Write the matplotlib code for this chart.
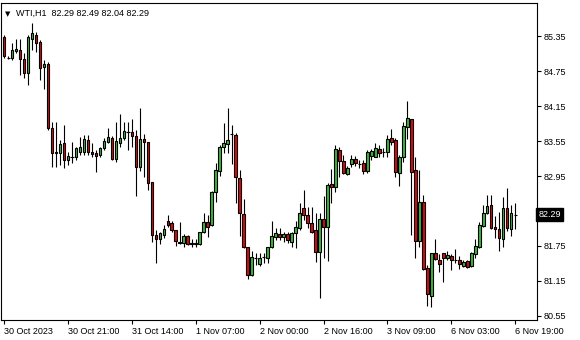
import numpy as np
import matplotlib.pyplot as plt
from matplotlib.patches import Rectangle

# --- WTI H1 candles (open, high, low, close) ---
opens = [85.33, 84.99, 84.97, 85.09, 85.11, 84.96, 84.72, 85.30, 85.38, 85.25,
         84.82, 84.87, 83.77, 83.36, 83.34, 83.52, 83.22, 83.28, 83.28, 83.36,
         83.36, 83.57, 83.36, 83.34, 83.31, 83.43, 83.53, 83.60, 83.24, 83.52,
         83.60, 83.72, 83.70, 83.64, 83.10, 83.58, 83.53, 82.85, 81.94, 81.87,
         81.93, 82.18, 82.14, 82.02, 81.82, 81.80, 81.92, 81.80, 81.78, 81.78,
         81.99, 82.16, 82.11, 82.68, 83.04, 83.45, 83.50, 83.67, 83.65, 82.91,
         82.30, 81.73, 81.25, 81.55, 81.44, 81.55, 81.55, 81.73, 81.90, 81.96,
         81.90, 81.96, 81.82, 81.97, 82.06, 82.40, 82.28, 82.14, 82.02, 81.65,
         82.21, 82.08, 82.81, 82.76, 83.40, 83.21, 82.98, 83.16, 83.24, 83.16,
         83.17, 83.04, 83.29, 83.28, 83.41, 83.36, 83.36, 83.60, 83.57, 83.00,
         83.28, 83.79, 83.93, 83.05, 81.84, 82.50, 81.37, 80.89, 81.63, 81.51,
         81.63, 81.54, 81.58, 81.51, 81.51, 81.41, 81.49, 81.41, 81.61, 81.73,
         82.09, 82.32, 82.45, 82.08, 82.04, 81.87, 82.40, 82.04, 82.29]
highs = [85.37, 85.01, 85.23, 85.30, 85.30, 85.06, 85.37, 85.57, 85.42, 85.28,
         84.94, 84.90, 83.88, 83.88, 83.57, 83.82, 83.36, 83.53, 83.45, 83.62,
         83.65, 83.65, 83.52, 83.40, 83.45, 83.60, 83.77, 83.64, 83.88, 84.01,
         83.88, 83.88, 83.93, 83.74, 84.12, 83.67, 83.53, 82.85, 82.02, 81.99,
         82.11, 82.28, 82.18, 82.02, 82.16, 81.96, 81.94, 81.87, 81.87, 81.99,
         82.32, 82.28, 82.69, 83.17, 83.48, 83.86, 84.12, 83.82, 83.69, 83.05,
         82.56, 81.73, 81.66, 81.63, 81.63, 81.63, 81.73, 82.18, 82.06, 82.06,
         81.99, 81.99, 81.99, 82.18, 82.49, 82.71, 82.42, 82.42, 82.32, 82.32,
         82.61, 82.83, 83.07, 83.48, 83.45, 83.31, 83.12, 83.31, 83.29, 83.22,
         83.22, 83.40, 83.41, 83.52, 83.48, 83.43, 83.65, 83.76, 83.60, 83.31,
         83.88, 84.24, 83.93, 83.28, 83.05, 82.62, 81.42, 81.63, 81.87, 81.61,
         81.63, 81.66, 81.61, 81.70, 81.58, 81.51, 81.51, 81.65, 81.87, 82.16,
         82.45, 82.62, 82.62, 82.26, 82.33, 82.59, 82.74, 82.45, 82.49]
lows = [84.97, 84.96, 84.94, 85.06, 84.68, 84.63, 84.51, 85.11, 85.08, 84.60,
        84.44, 83.74, 83.10, 83.10, 83.14, 83.09, 83.14, 83.17, 83.22, 83.31,
        83.31, 83.31, 83.28, 83.02, 83.28, 83.40, 83.52, 83.22, 83.19, 83.45,
        83.57, 83.40, 83.45, 82.61, 83.04, 82.93, 82.71, 81.82, 81.46, 81.78,
        81.89, 82.07, 81.99, 81.75, 81.78, 81.73, 81.77, 81.73, 81.73, 81.77,
        81.97, 81.90, 82.09, 82.50, 82.95, 83.34, 83.34, 83.16, 82.49, 81.92,
        81.72, 81.18, 81.24, 81.42, 81.41, 81.46, 81.46, 81.72, 81.85, 81.85,
        81.82, 81.80, 81.73, 81.72, 82.02, 82.19, 82.06, 81.97, 81.48, 80.86,
        81.54, 81.49, 82.49, 82.68, 82.93, 82.98, 82.97, 83.10, 83.12, 83.09,
        82.98, 83.00, 83.22, 83.28, 83.28, 83.28, 83.28, 83.48, 82.93, 82.78,
        83.19, 83.58, 81.94, 81.54, 81.73, 81.34, 80.72, 80.70, 81.51, 81.30,
        81.13, 81.51, 81.34, 81.46, 81.36, 81.39, 81.37, 81.39, 81.54, 81.72,
        82.08, 82.30, 82.04, 81.89, 81.66, 81.73, 82.01, 81.92, 82.04]
closes = [85.01, 84.98, 85.11, 85.13, 84.96, 84.72, 85.33, 85.40, 85.23, 84.80,
          84.87, 83.77, 83.34, 83.34, 83.50, 83.22, 83.29, 83.29, 83.43, 83.45,
          83.58, 83.36, 83.33, 83.29, 83.43, 83.55, 83.62, 83.24, 83.55, 83.60,
          83.72, 83.71, 83.64, 83.10, 83.58, 83.53, 82.83, 81.94, 81.87, 81.98,
          82.04, 82.11, 82.02, 81.84, 81.80, 81.92, 81.78, 81.78, 81.80, 81.99,
          82.16, 82.08, 82.68, 83.05, 83.45, 83.52, 83.57, 83.66, 82.93, 82.32,
          81.73, 81.25, 81.56, 81.54, 81.55, 81.56, 81.73, 81.92, 81.97, 81.90,
          81.96, 81.85, 81.97, 82.08, 82.32, 82.28, 82.14, 81.99, 81.65, 82.21,
          82.08, 82.80, 82.76, 83.41, 83.21, 83.00, 83.09, 83.24, 83.17, 83.15,
          83.04, 83.36, 83.38, 83.43, 83.34, 83.37, 83.58, 83.53, 83.02, 83.28,
          83.81, 83.94, 83.02, 81.84, 82.50, 81.36, 80.93, 81.63, 81.53, 81.44,
          81.54, 81.60, 81.51, 81.50, 81.44, 81.48, 81.39, 81.63, 81.75, 82.11,
          82.32, 82.44, 82.06, 82.04, 81.89, 82.40, 82.06, 82.32, 82.29]

price_ticks = [85.35, 84.75, 84.15, 83.55, 82.95, 82.35, 81.75, 81.15, 80.55]
price_labels = ['85.35', '84.75', '84.15', '83.55', '82.95', '', '81.75', '81.15', '80.55']
time_ticks = [0, 16, 32, 48, 64, 80, 96, 112, 128]
time_labels = ['30 Oct 2023', '30 Oct 21:00', '31 Oct 14:00', '1 Nov 07:00',
               '2 Nov 00:00', '2 Nov 16:00', '3 Nov 09:00', '6 Nov 03:00', '6 Nov 19:00']

BULL = '#3cb93c'
BEAR = '#dc0a0a'
FONT = 'Liberation Sans'

fig = plt.figure(figsize=(5.8, 3.4), dpi=100)
ax = fig.add_axes([0.002, 0.059, 0.924, 0.932])

o = np.array(opens)
h = np.array(highs)
l = np.array(lows)
c = np.array(closes)
x = np.arange(len(o))

# wicks
ax.vlines(x, l, h, color='black', lw=0.8, zorder=2)

# bodies (doji -> flat dash)
for xi, oi, ci in zip(x, o, c):
    bottom = min(oi, ci)
    height = abs(ci - oi)
    if height < 0.015:
        ax.hlines((oi + ci) / 2, xi - 0.4, xi + 0.4, color='black', lw=0.8, zorder=3)
        continue
    color = BULL if ci > oi else BEAR
    ax.add_patch(Rectangle((xi - 0.33, bottom), 0.66, height, facecolor=color,
                           edgecolor='black', lw=0.8, zorder=3))

ax.set_xlim(-0.75, 133.5)
ax.set_ylim(80.48, 85.92)

# right price axis
ax.yaxis.tick_right()
ax.set_yticks(price_ticks)
ax.set_yticklabels(price_labels, fontsize=6.5, family=FONT)
ax.tick_params(axis='y', direction='out', length=3, width=0.8, pad=2, colors='black')

ax.set_xticks(time_ticks)
ax.set_xticklabels(time_labels, fontsize=6.5, family=FONT, ha='left')
ax.tick_params(axis='x', direction='out', length=3, width=0.8, pad=2)

for s in ax.spines.values():
    s.set_linewidth(0.8)
    s.set_color('black')

# last price marker
ax.text(1.003, closes[-1], f'{closes[-1]:.2f}', transform=ax.get_yaxis_transform(),
        va='center', ha='left', fontsize=6.5, family=FONT, color='white',
        bbox=dict(boxstyle='square,pad=0.25', facecolor='black', edgecolor='black'),
        clip_on=False)

# header
ax.text(0.008, 0.975, '\u25bc', transform=ax.transAxes, fontsize=5, va='top', ha='left')
ax.text(0.028, 0.983, 'WTI,H1  %.2f %.2f %.2f %.2f' % (opens[-1], highs[-1], lows[-1], closes[-1]),
        transform=ax.transAxes, fontsize=6.5, family=FONT, va='top', ha='left')

fig.savefig('out.png', dpi=100)
